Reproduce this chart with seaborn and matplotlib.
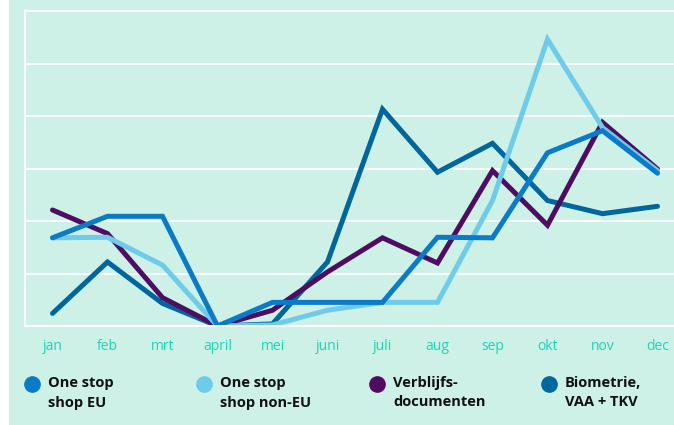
import pandas as pd
import matplotlib.pyplot as plt
import seaborn as sns
from matplotlib.lines import Line2D
from matplotlib.patches import Rectangle

# month labels and series values (in grid units)
months = ['jan', 'feb', 'mrt', 'april', 'mei', 'juni', 'juli', 'aug', 'sep', 'okt', 'nov', 'dec']
oss_eu = [1.68, 2.09, 2.09, 0.0, 0.45, 0.45, 0.45, 1.69, 1.68, 3.30, 3.72, 2.91]
oss_non_eu = [1.68, 1.69, 1.16, 0.0, 0.02, 0.30, 0.45, 0.45, 2.39, 5.46, 3.78, 2.96]
verblijf = [2.21, 1.76, 0.54, 0.0, 0.30, 1.03, 1.68, 1.20, 2.96, 1.92, 3.88, 2.99]
biometrie = [0.24, 1.22, 0.43, 0.0, 0.04, 1.22, 4.13, 2.93, 3.48, 2.39, 2.14, 2.28]

series_names = ['One stop\nshop EU', 'One stop\nshop non-EU', 'Verblijfs-\ndocumenten', 'Biometrie,\nVAA + TKV']
series_vals = [oss_eu, oss_non_eu, verblijf, biometrie]
colors = ['#0a7bc8', '#6fcbea', '#4e0d62', '#00679e']

bg = '#cdf0e7'
teal = '#1fd3b6'

rows = []
for name, vals in zip(series_names, series_vals):
    for i, v in enumerate(vals):
        rows.append({'serie': name, 'pos': i, 'waarde': v})
df = pd.DataFrame(rows)

sns.set_style('white')
plt.rcParams['font.family'] = ['Open Sans', 'DejaVu Sans']

W, H = 674, 425
fig = plt.figure(figsize=(W / 100, H / 100), dpi=100, facecolor=bg)
fig.add_artist(Rectangle((0, 0), 9 / W, 1, transform=fig.transFigure, facecolor='white', edgecolor='none'))

ax = fig.add_axes([25 / W, (H - 326) / H, (W - 25) / W, 316 / H])
ax.set_facecolor(bg)

# draw bottom-to-top so that "One stop shop EU" ends up on top
order = series_names[::-1]
sns.lineplot(data=df, x='pos', y='waarde', hue='serie', hue_order=order,
             palette=dict(zip(series_names, colors)), sort=False, legend=False,
             linewidth=3.6, solid_capstyle='round', solid_joinstyle='miter', ax=ax)

ax.set_yticks(range(0, 7))
ax.set_yticklabels([])
ax.tick_params(axis='y', length=0)
ax.grid(axis='y', color='white', linewidth=1.3)
ax.grid(axis='x', visible=False)

ax.set_xticks(range(len(months)))
ax.set_xticklabels(months, color=teal, fontsize=10)
ax.set_xticks([i - 0.5 for i in range(len(months) + 1)], minor=True)
ax.tick_params(axis='x', which='major', length=0, pad=9)
ax.tick_params(axis='x', which='minor', length=5.5, width=1.3, color='white')
ax.set_xlabel('')
ax.set_ylabel('')

# limits after the ticks, since set_xticks widens the view
ax.set_xlim(-0.5, -0.5 + (W - 25) / 55.0)
ax.set_ylim(0, 6.02)

for s in ['top', 'right']:
    ax.spines[s].set_visible(False)
for s in ['left', 'bottom']:
    ax.spines[s].set_color('white')
    ax.spines[s].set_linewidth(1.3)

# legend, laid out by hand like the reference
leg_x = [32, 204, 377, 549]
for x0, name, c in zip(leg_x, series_names, colors):
    fig.add_artist(Line2D([x0 / W], [1 - 384 / H], transform=fig.transFigure,
                          marker='o', markersize=11, color=c, linestyle='none'))
    fig.text((x0 + 16) / W, 1 - 376 / H, name, fontsize=10.5, fontweight='bold',
             va='top', ha='left', linespacing=1.5, color='#111111')

fig.savefig('out.png', dpi=100, facecolor=bg)
